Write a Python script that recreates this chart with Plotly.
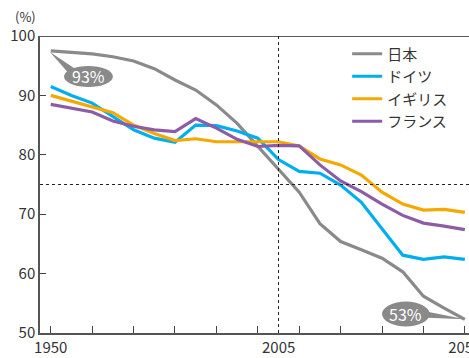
import plotly.graph_objects as go

years = list(range(1950, 2051, 5))
japan = [97.5, 97.2, 97.0, 96.5, 95.8, 94.5, 92.6, 90.9, 88.4, 85.3, 81.5, 77.5, 73.7,
         68.4, 65.4, 64.0, 62.6, 60.3, 56.2, 54.2, 52.3]
germany = [91.5, 90.0, 88.7, 86.5, 84.2, 82.8, 82.1, 85.0, 84.9, 84.0, 82.8, 79.2, 77.2,
           76.9, 74.9, 72.0, 67.5, 63.1, 62.4, 62.8, 62.4]
uk = [90.0, 89.0, 88.0, 87.1, 85.0, 83.6, 82.4, 82.7, 82.2, 82.2, 82.3, 82.2, 81.5,
      79.3, 78.3, 76.6, 73.7, 71.7, 70.7, 70.8, 70.3]
france = [88.5, 87.9, 87.2, 85.7, 84.8, 84.2, 83.9, 86.1, 84.5, 82.6, 81.4, 81.6, 81.5,
          78.3, 75.6, 73.8, 71.7, 69.8, 68.5, 68.0, 67.4]

names = ["日本", "ドイツ", "イギリス", "フランス"]
colors = ["#8a8a8a", "#00aeef", "#f5a800", "#8c5ca6"]
series = [japan, germany, uk, france]

x_ticks = list(range(1950, 2051, 10))
x_labels = {1950: "1950", 2050: "2050"}
y_ticks = [50, 60, 70, 80, 90, 100]
x_range = [1947.4, 2051.0]
ref_year = 2005
ref_value = 75

FONT = "Noto Sans CJK JP, Noto Sans, sans-serif"

fig = go.Figure()
for n, c, s in zip(names, colors, series):
    fig.add_trace(go.Scatter(x=years, y=s, name=n, mode="lines",
                             line=dict(color=c, width=3.2)))

shapes = [
    dict(type="line", xref="paper", yref="y", x0=0, x1=1, y0=100, y1=100,
         line=dict(color="#222", width=1.5)),
    dict(type="line", xref="x", yref="y", x0=ref_year, x1=ref_year, y0=50, y1=100,
         line=dict(color="#222", width=1, dash="dot")),
    dict(type="line", xref="paper", yref="y", x0=0, x1=1, y0=ref_value, y1=ref_value,
         line=dict(color="#222", width=1, dash="dot")),
    dict(type="circle", xref="x", yref="y", x0=1953.2, x1=1965.0, y0=91.4, y1=94.95,
         fillcolor="#8a8a8a", line=dict(width=0)),
    dict(type="path", xref="x", yref="y",
         path="M 1949.8,97.3 L 1956.5,94.2 L 1955.0,93.2 Z",
         fillcolor="#8a8a8a", line=dict(width=0)),
    dict(type="circle", xref="x", yref="y", x0=2030.0, x1=2041.5, y0=51.1, y1=55.3,
         fillcolor="#8a8a8a", line=dict(width=0)),
    dict(type="path", xref="x", yref="y",
         path="M 2050,52.3 L 2039.5,53.8 L 2039.5,52.6 Z",
         fillcolor="#8a8a8a", line=dict(width=0)),
]

annotations = [
    dict(x=1959.1, y=93.2, xref="x", yref="y", text="93%", showarrow=False,
         font=dict(color="white", size=16, family=FONT)),
    dict(x=2035.75, y=53.2, xref="x", yref="y", text="53%", showarrow=False,
         font=dict(color="white", size=16, family=FONT)),
    dict(x=ref_year, y=0, xref="x", yref="paper", yanchor="top", text="2005",
         showarrow=False, yshift=-1, font=dict(color="#333", size=15, family=FONT)),
    dict(x=-15 / 429, y=1 + 19 / 297, xref="paper", yref="paper", xanchor="center",
         yanchor="middle", text="(%)", showarrow=False,
         font=dict(color="#333", size=13, family=FONT)),
]

fig.update_layout(
    width=469, height=358,
    margin=dict(l=40, r=0, t=36, b=25, autoexpand=False),
    paper_bgcolor="white", plot_bgcolor="white",
    font=dict(family=FONT, color="#333", size=15),
    shapes=shapes, annotations=annotations,
    legend=dict(x=0.716, y=0.995, xanchor="left", yanchor="top",
                bgcolor="rgba(0,0,0,0)", font=dict(size=15, color="#333"),
                itemwidth=30, tracegroupgap=0),
    xaxis=dict(range=x_range, tickmode="array", tickvals=x_ticks,
               ticktext=[x_labels.get(v, "") for v in x_ticks], automargin=False,
               ticklabeloverflow="allow",
               ticks="inside", ticklen=7, tickwidth=1.2, tickcolor="#444",
               showgrid=False, zeroline=False, showline=True, linecolor="#555",
               linewidth=1.5, tickfont=dict(size=15, color="#333")),
    yaxis=dict(range=[50, 100], tickmode="array", tickvals=y_ticks, automargin=False,
               ticks="inside", ticklen=6, tickwidth=1.2, tickcolor="#444",
               showgrid=False, zeroline=False, showline=True, linecolor="#555",
               linewidth=1.5, tickfont=dict(size=15, color="#333")),
)

fig.write_html("out.html", config={"displayModeBar": False},
               post_script="document.body.style.margin='0';document.body.style.padding='0';")
